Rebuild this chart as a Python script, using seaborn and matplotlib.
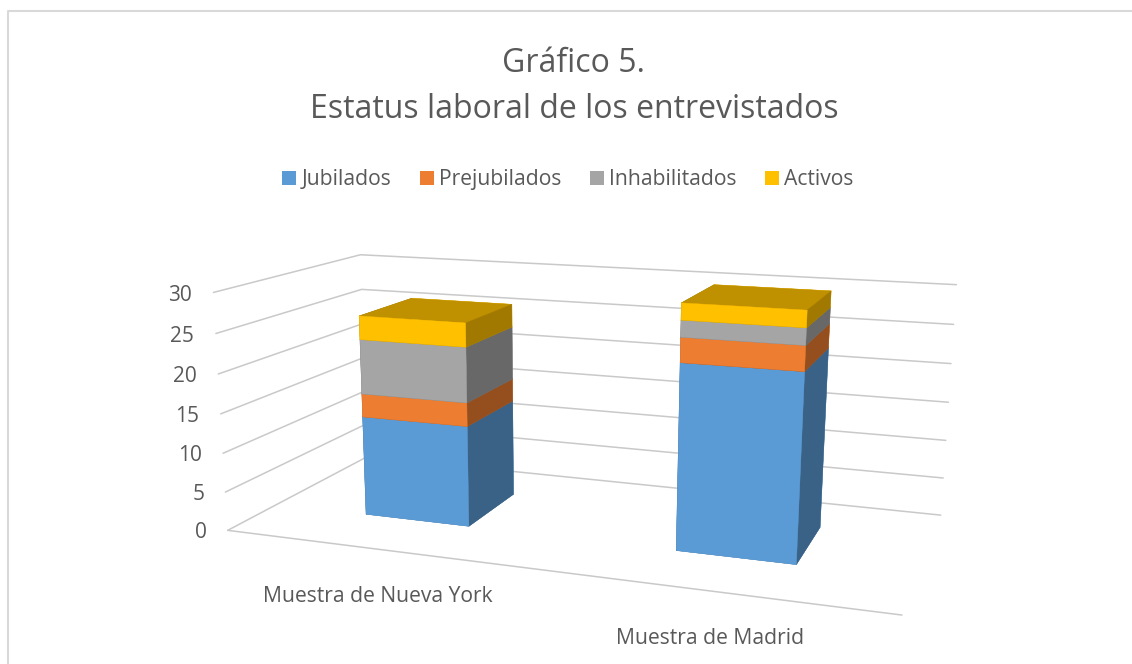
import numpy as np
import matplotlib
matplotlib.use("Agg")
import matplotlib.pyplot as plt
from matplotlib.patches import Patch
from matplotlib.lines import Line2D
import seaborn as sns

# ---- data ----
categories = ["Muestra de Nueva York", "Muestra de Madrid"]
series_names = ["Jubilados", "Prejubilados", "Inhabilitados", "Activos"]
jubilados = [13, 23]
prejubilados = [3, 3]
inhabilitados = [7, 2]
activos = [3, 2]
series_values = [jubilados, prejubilados, inhabilitados, activos]
z_ticks = [0, 5, 10, 15, 20, 25, 30]
title_text = "Gráfico 5.\nEstatus laboral de los entrevistados"

# ---- styling ----
colors = ["#5B9BD5", "#ED7D31", "#A5A5A5", "#FFC000"]
SIDE, TOP = 0.63, 0.75
GRID = "#C9C9C9"
TEXT = "#595959"
FONT = ["Open Sans", "DejaVu Sans"]
W, H = 1132, 664
BAR_X = [0.316, 1.32]
BAR_W = 0.35
BAR_Y0, BAR_DY = 0.32, 0.40

sns.set_theme(style="white")
plt.rcParams["font.family"] = FONT
palette = sns.color_palette(colors)

# camera: where the corners of the plot box land on the picture
box_world = np.array([[0,0,0],[2,0,0],[2,1,0],[0,1,0],[0,0,30],[0,1,30],[2,1,30]], float)
box_px = np.array([[229,529],[902,616],[941,514],[366,458],[212,293],[362,254],[956,285]], float)

fig = plt.figure(figsize=(W/100, H/100), dpi=100, facecolor="white")
ax = fig.add_axes([0, 0, 1, 1], projection="3d", computed_zorder=False)
ax.patch.set_alpha(0)


def camera():
    disp = np.column_stack([box_px[:, 0], H - box_px[:, 1]])
    view = ax.transData.inverted().transform(disp)
    A = []
    for (X, Y, Z), (u, v) in zip(box_world, view):
        A.append([X, Y, Z, 1, 0, 0, 0, 0, -u*X, -u*Y, -u*Z, -u])
        A.append([0, 0, 0, 0, X, Y, Z, 1, -v*X, -v*Y, -v*Z, -v])
    P = np.linalg.svd(np.array(A))[2][-1].reshape(3, 4)
    P = P / (P[2] @ np.array([1, 0.5, 15, 1]))
    depth = np.array([-1.0, 1.0, -0.05, -10.0])
    return np.vstack([P[0], P[1], depth, P[2]])


ax.get_proj = camera

# walls and floor lines
for z in z_ticks:
    ax.plot([0, 0, 2], [0, 1, 1], [z, z, z], color=GRID, lw=1.1, zorder=0, clip_on=False)
    ax.text(-0.075, 0, z - 0.6, str(z), ha="right", va="center", fontsize=15, color=TEXT)
ax.plot([0, 2], [0, 0], [0, 0], color=GRID, lw=1.1, zorder=0, clip_on=False)

# stacked bars
order = 1
for c, x0 in enumerate(BAR_X):
    bottom = 0
    for s, vals in enumerate(series_values):
        base = np.array(palette[s])
        faces = [base*TOP, base*TOP, base, base, base*SIDE, base*SIDE]
        col = ax.bar3d([x0], [BAR_Y0], [bottom], [BAR_W], [BAR_DY], [vals[c]],
                       color=faces, shade=False, edgecolor=faces, linewidth=0.3)
        col.set_clip_on(False)
        col.set_zorder(order)
        order += 1
        bottom += vals[c]

# the real axes are replaced by the lines and labels above
ax.set_xticks([])
ax.set_yticks([])
ax.set_zticks([])
ax.set_axis_off()

# category labels
fig.text(378/W, 1-596/H, categories[0], ha="center", va="center", fontsize=15.2, color=TEXT)
fig.text(710/W, 1-638/H, categories[1], ha="center", va="center", fontsize=15.2, color=TEXT)

# title, legend, frame
fig.text(574/W, 1-86/H, title_text, ha="center", va="center", fontsize=23,
         color=TEXT, linespacing=1.52)
handles = [Patch(facecolor=c, edgecolor="none") for c in palette]
fig.legend(handles, series_names, loc="center", bbox_to_anchor=(567.8/W, 1-179.6/H), ncols=4,
           frameon=False, fontsize=15.2, labelcolor=TEXT, handlelength=0.67, handleheight=0.67,
           handletextpad=0.24, columnspacing=1.35)
fig.add_artist(Line2D([8/W, 8/W, 1], [0, 1-11/H, 1-11/H], color="#D9D9D9", lw=1.5))

fig.savefig("out.png", dpi=100, facecolor="white")
